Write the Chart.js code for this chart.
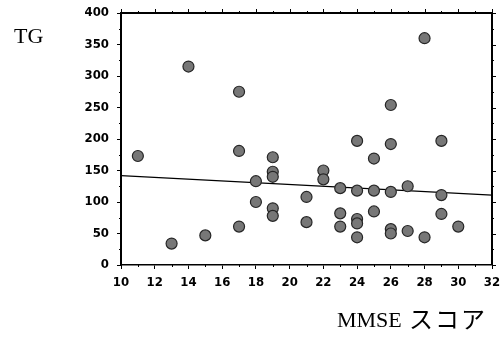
<!DOCTYPE html>
<html>
<head>
<meta charset="utf-8">
<script src="https://cdn.jsdelivr.net/npm/chart.js@4"></script>
<style>
  html, body { margin: 0; padding: 0; background: #fff; }
  #wrap { width: 504px; height: 337px; position: relative; }
</style>
</head>
<body>
<div id="wrap"><canvas id="myChart" width="504" height="337"></canvas></div>
<script>
// Data_
const mmse = [11, 13, 14, 15, 17, 17, 17, 18, 18, 19, 19, 19, 19, 19, 21, 21, 22, 22,
  23, 23, 23, 24, 24, 24, 24, 24, 25, 25, 25, 26, 26, 26, 26, 26, 27, 27, 28, 28, 29, 29, 29, 30];
const tg = [173, 34, 315, 47, 275, 181, 61, 133, 100, 171, 148, 140, 90, 78, 108, 68, 150, 136,
  122, 82, 61, 197, 118, 73, 66, 44, 169, 118, 85, 254, 192, 116, 57, 50, 125, 54, 360, 44, 197, 111, 81, 61];
const fitX = [10, 32];
const fitY = [142, 111];
const xTicks = [10, 12, 14, 16, 18, 20, 22, 24, 26, 28, 30, 32];
const yTicks = [0, 50, 100, 150, 200, 250, 300, 350, 400];
const yLabel = 'TG';
const xLabel = 'MMSE スコア';

const graph = document.getElementById('myChart');
const tickFont = { family: '"Liberation Sans Narrow", "DejaVu Sans Condensed", "Liberation Sans", sans-serif', size: 13, weight: 'bold' };

// box frame + minor ticks + axis titles
const framePlugin = {
  id: 'frame',
  afterDraw(chart) {
    const ctx = chart.ctx;
    const a = chart.chartArea;
    const xs = chart.scales.x;
    const ys = chart.scales.y;
    ctx.save();
    ctx.strokeStyle = '#000';
    ctx.lineWidth = 2;
    ctx.beginPath();
    ctx.moveTo(a.left, a.top);
    ctx.lineTo(a.right, a.top);
    ctx.lineTo(a.right, a.bottom);
    ctx.stroke();
    ctx.lineWidth = 1;
    ctx.beginPath();
    for (let v = 10; v <= 32; v++) {
      const px = Math.round(xs.getPixelForValue(v)) + 0.5;
      const len = v % 2 === 0 ? 4 : 2;
      ctx.moveTo(px, a.top);
      ctx.lineTo(px, a.top - len);
      ctx.moveTo(px, a.bottom);
      ctx.lineTo(px, a.bottom + (v % 2 === 0 ? 0 : 2));
    }
    for (let v = 0; v <= 400; v += 25) {
      const py = Math.round(ys.getPixelForValue(v)) + 0.5;
      const len = v % 50 === 0 ? 4 : 2;
      ctx.moveTo(a.right, py);
      ctx.lineTo(a.right + len, py);
      if (v % 50 !== 0) {
        ctx.moveTo(a.left, py);
        ctx.lineTo(a.left - 2, py);
      }
    }
    ctx.stroke();
    ctx.fillStyle = '#000';
    ctx.textBaseline = 'alphabetic';
    ctx.font = '22px "Liberation Serif", serif';
    ctx.fillText(yLabel, 14, 43);
    const parts = xLabel.split(' ');
    ctx.font = '22px "Liberation Serif", serif';
    ctx.fillText(parts[0], 337, 327);
    ctx.font = '24px "Noto Sans CJK JP", serif';
    ctx.letterSpacing = '2px';
    ctx.fillText(parts[1], 409, 328);
    ctx.restore();
  }
};

const config = {
  data: {
    datasets: [
      {
        type: 'line',
        data: fitX.map((x, i) => ({ x: x, y: fitY[i] })),
        borderColor: '#000',
        borderWidth: 1.3,
        pointRadius: 0,
        fill: false,
        order: 2
      },
      {
        type: 'scatter',
        data: mmse.map((x, i) => ({ x: x, y: tg[i] })),
        backgroundColor: '#777777',
        borderColor: '#262626',
        borderWidth: 1.2,
        pointRadius: 5.5,
        order: 1
      }
    ]
  },
  options: {
    responsive: false,
    animation: false,
    layout: { padding: { top: 13, right: 12, left: 0, bottom: 0 } },
    plugins: { legend: { display: false }, tooltip: { enabled: false } },
    scales: {
      x: {
        type: 'linear',
        min: 10,
        max: 32,
        afterBuildTicks: (s) => { s.ticks = xTicks.map(v => ({ value: v })); },
        afterFit: (s) => { s.height = 72; s.paddingLeft = 0; s.paddingRight = 0; },
        border: { color: '#000', width: 1.5 },
        grid: { display: true, drawOnChartArea: false, tickLength: 4, color: '#000' },
        ticks: { color: '#000', font: tickFont, padding: 6, maxRotation: 0 }
      },
      y: {
        type: 'linear',
        min: 0,
        max: 400,
        afterBuildTicks: (s) => { s.ticks = yTicks.map(v => ({ value: v })); },
        afterFit: (s) => { s.width = 121; s.paddingTop = 0; s.paddingBottom = 0; },
        border: { color: '#000', width: 2 },
        grid: { display: true, drawOnChartArea: false, tickLength: 4, color: '#000' },
        ticks: { color: '#000', font: tickFont, padding: 8 }
      }
    }
  },
  plugins: [framePlugin]
};

let chart = new Chart(graph, config);
</script>
</body>
</html>
